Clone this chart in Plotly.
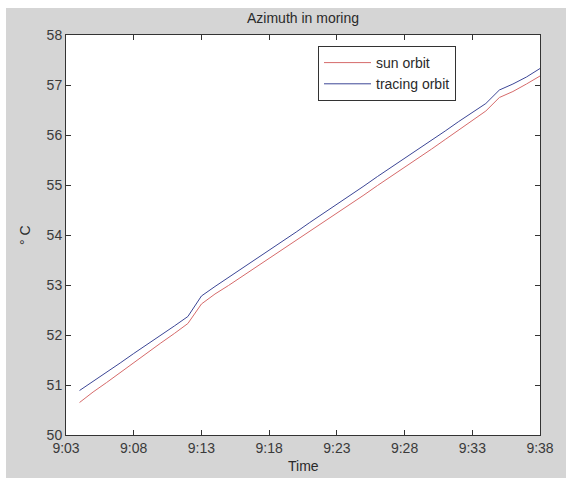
import plotly.graph_objects as go

# minutes after 9:00
minutes = list(range(4, 39))
sun_orbit = [50.65, 50.86, 51.05, 51.25, 51.44, 51.64, 51.84, 52.03, 52.23, 52.62,
             52.82, 52.99, 53.17, 53.35, 53.53, 53.71, 53.89, 54.07, 54.25, 54.43,
             54.62, 54.80, 54.99, 55.17, 55.35, 55.54, 55.72, 55.91, 56.10, 56.29,
             56.48, 56.75, 56.87, 57.02, 57.18]
tracing_orbit = [50.89, 51.07, 51.26, 51.44, 51.63, 51.81, 52.00, 52.18, 52.37, 52.78,
                 52.97, 53.15, 53.34, 53.52, 53.70, 53.88, 54.06, 54.25, 54.43, 54.61,
                 54.80, 54.98, 55.17, 55.35, 55.53, 55.72, 55.90, 56.08, 56.27, 56.45,
                 56.63, 56.90, 57.02, 57.16, 57.33]
x_tick_vals = [3, 8, 13, 18, 23, 28, 33, 38]
x_tick_text = ["9:03", "9:08", "9:13", "9:18", "9:23", "9:28", "9:33", "9:38"]
y_tick_vals = [50, 51, 52, 53, 54, 55, 56, 57, 58]

W, H = 566, 478
L, R, T, B = 66, 26, 35, 43
PW, PH = W - L - R, H - T - B
FONT = "Liberation Sans, Arial, sans-serif"
GRAY = "#d5d5d5"
FS = 14

fig = go.Figure()
fig.add_trace(go.Scatter(x=minutes, y=sun_orbit, mode="lines", name="sun orbit",
                         line=dict(color="#d66a6a", width=1)))
fig.add_trace(go.Scatter(x=minutes, y=tracing_orbit, mode="lines", name="tracing orbit",
                         line=dict(color="#3c4696", width=1)))

axis_common = dict(showgrid=False, zeroline=False, showline=True, linecolor="#333333",
                   linewidth=1, mirror="ticks", ticks="inside", ticklen=5,
                   tickcolor="#333333", tickfont=dict(family=FONT, size=FS, color="#3a3a3a"))

fig.update_xaxes(range=[3, 38], tickvals=x_tick_vals, ticktext=x_tick_text, **axis_common)
fig.update_yaxes(range=[50, 58], tickvals=y_tick_vals, **axis_common)

fig.update_layout(
    width=W, height=H, autosize=False,
    margin=dict(l=L, r=R, t=T, b=B),
    paper_bgcolor=GRAY, plot_bgcolor="white",
    showlegend=True,
    legend=dict(x=(318 - L) / PW, y=(H - B - 46) / PH,
                xanchor="left", yanchor="top", bgcolor="white",
                bordercolor="#333333", borderwidth=1,
                font=dict(family=FONT, size=FS, color="#2a2a2a"),
                tracegroupgap=0, itemwidth=47),
    shapes=[
        dict(type="rect", xref="paper", yref="paper", layer="below",
             x0=-L / PW - 0.01, x1=(6 - L) / PW,
             y0=-B / PH - 0.01, y1=(H - B) / PH + 0.01,
             fillcolor="white", line=dict(width=0)),
        dict(type="rect", xref="paper", yref="paper", layer="below",
             x0=-L / PW - 0.01, x1=(W - L) / PW + 0.01,
             y0=(H - B - 8) / PH, y1=(H - B) / PH + 0.01,
             fillcolor="white", line=dict(width=0)),
    ],
    annotations=[
        dict(text="Azimuth in moring", xref="paper", yref="paper",
             x=0.5, y=(H - B - 18) / PH, xanchor="center", yanchor="middle",
             showarrow=False, font=dict(family=FONT, size=FS, color="#2a2a2a")),
        dict(text="Time", xref="paper", yref="paper",
             x=0.5, y=(H - B - 466) / PH, xanchor="center", yanchor="middle",
             showarrow=False, font=dict(family=FONT, size=FS, color="#2a2a2a")),
        dict(text="° C", xref="paper", yref="paper", textangle=-90,
             x=(25 - L) / PW, y=0.5, xanchor="center", yanchor="middle",
             showarrow=False, font=dict(family=FONT, size=FS, color="#2a2a2a")),
    ],
)

fig.write_html("out.html", config={"displayModeBar": False},
               post_script="document.body.style.margin='0';document.body.style.padding='0';")
